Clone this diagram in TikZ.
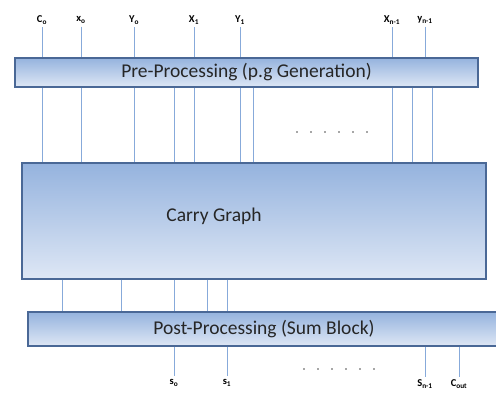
\documentclass[tikz,border=0pt]{standalone}
\usepackage{fontspec}
\setmainfont{Carlito}
\usepackage{tikz}
\usetikzlibrary{positioning, calc}
\definecolor{boxtop}{RGB}{149,179,222}
\definecolor{boxbot}{RGB}{222,231,245}
\definecolor{boxedge}{RGB}{74,104,150}
\definecolor{wirecol}{RGB}{135,170,218}
\tikzset{
blk/.style={draw=boxedge, line width=1.3pt, top color=boxtop, bottom color=boxbot, inner sep=0pt, font=\fontsize{19.5}{21}\selectfont, text=black!85},
wire/.style={draw=wirecol, line width=0.9pt},
sig/.style={font=\fontsize{10.5}{11}\selectfont\bfseries, inner sep=3pt}
}
\begin{document}
\begin{tikzpicture}[x=1pt,y=-1pt]
\useasboundingbox (0,0) rectangle (496,392);
\node[blk, minimum width=463pt, minimum height=29pt] (pre) at (246.5,72.5) {Pre-Processing (p.g Generation)};
\node[blk, minimum width=464pt, minimum height=116pt, label={[xshift=-40pt, yshift=5pt, font=\fontsize{19.5}{21}\selectfont, text=black!85]center:Carry Graph}] (carry) at (254,221) {};
\node[blk, minimum width=472pt, minimum height=34pt] (post) at (264,329) {Post-Processing (Sum Block)};
% inputs
\node[sig] (c0) at (42,20) {C\textsubscript{o}};
\node[sig] (x0) at (81,20) {x\textsubscript{o}};
\node[sig] (y0) at (134,20) {Y\textsubscript{o}};
\node[sig] (x1) at (194,20) {X\textsubscript{1}};
\node[sig] (y1) at (240,20) {Y\textsubscript{1}};
\node[sig] (xn) at (392,20) {X\textsubscript{n-1}};
\node[sig] (yn) at (425,20) {y\textsubscript{n-1}};
\foreach \n in {c0,x0,y0,x1,y1,xn,yn}
	\draw[wire] (\n.south) -- (\n.south |- pre.north);
% pre -> carry
\foreach \x in {42,81,134,174,194,240,253,392,412,432}{
	\coordinate (a) at (\x,0);
	\draw[wire] (pre.south -| a) -- (carry.north -| a);}
% carry -> post
\foreach \x in {62,121,174,207,227}{
	\coordinate (b) at (\x,0);
	\draw[wire] (carry.south -| b) -- (post.north -| b);}
% outputs
\node[sig] (s0) at (174,383) {s\textsubscript{o}};
\node[sig] (s1) at (227,383) {s\textsubscript{1}};
\node[sig] (sn) at (425,384) {S\textsubscript{n-1}};
\node[sig] (cout) at (459,384) {C\textsubscript{out}};
\foreach \n in {s0,s1,sn,cout}
	\draw[wire] (post.south -| \n.north) -- (\n.north);
\foreach \i in {0,...,5}{
	\fill[black!70] (297+14*\i,132) circle (0.9pt);
	\fill[black!70] (304+14*\i,369) circle (0.9pt);}
\end{tikzpicture}
\end{document}
